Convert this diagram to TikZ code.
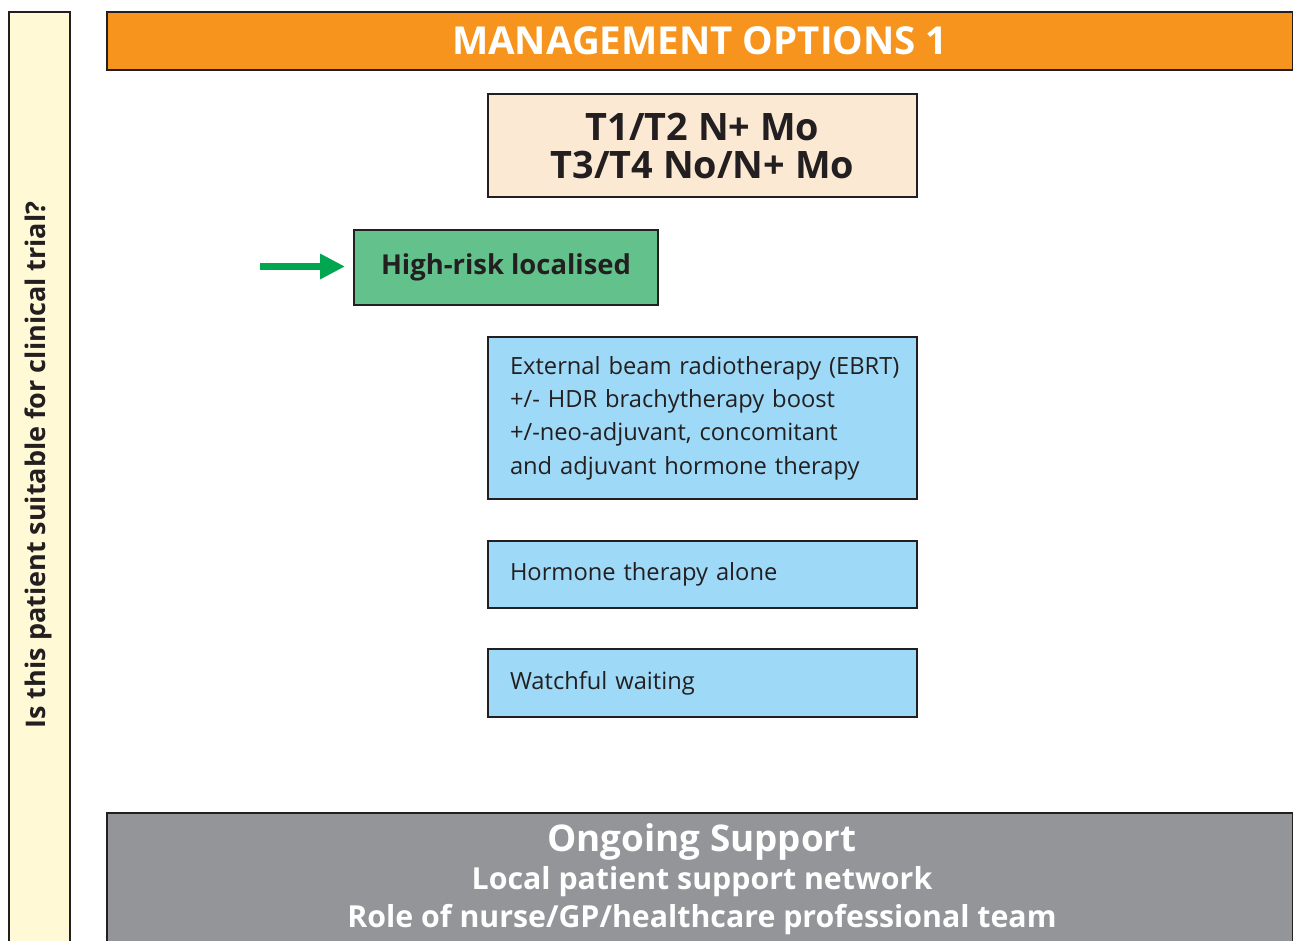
\documentclass[tikz,border=0pt]{standalone}
\usepackage{fontspec}
\setmainfont{Open Sans}
\usetikzlibrary{arrows.meta}
\definecolor{hdrorange}{HTML}{F7941D}
\definecolor{peach}{HTML}{FCE9D4}
\definecolor{gbox}{HTML}{63C18C}
\definecolor{garrow}{HTML}{00A650}
\definecolor{bbox}{HTML}{9EDAF7}
\definecolor{gray1}{HTML}{939598}
\definecolor{ylw}{HTML}{FFF9D6}
\definecolor{edge}{HTML}{231F20}
\hbadness=10000 \hfuzz=100pt
\tikzset{
  boxbase/.style={draw=edge, line width=2pt, rectangle, inner sep=0pt},
  optbox/.style={boxbase, fill=bbox, inner xsep=22pt, minimum width=429pt, text width=385pt, align=left,
     font=\fontsize{23.7}{33.3}\selectfont, text=edge},
}
\begin{document}
\begin{tikzpicture}[x=1pt,y=-1pt]
\clip (0,0) rectangle (1293,940);
\useasboundingbox (0,0) rectangle (1293,940);
\fill[white] (0,0) rectangle (1293,940);
% left vertical bar
\node[boxbase, fill=ylw, minimum width=61pt, minimum height=950pt, anchor=north west] (trial) at (8,11) {};
\node[rotate=90, font=\fontsize{27}{30}\bfseries, text=edge] (trialtxt) at (38.5,465) {Is this patient suitable for clinical trial?};
% header
\node[boxbase, fill=hdrorange, minimum width=1186pt, minimum height=58pt, anchor=north west,
  text=white, font=\fontsize{38.5}{40}\bfseries] (hdr) at (106,11) {MANAGEMENT OPTIONS 1};
% stage box
\node[boxbase, fill=peach, minimum width=429pt, minimum height=103pt, anchor=north west,
  align=center, text=edge, font=\fontsize{37.8}{38}\bfseries] (stage) at (487,93) {T1/T2 N+ Mo\\T3/T4 No/N+ Mo};
% high-risk box
\node[boxbase, fill=gbox, minimum width=304pt, minimum height=75pt, anchor=north west,
  text=edge, font=\fontsize{27.4}{30}\bfseries] (hr) at (353,229) {High-risk localised};
\coordinate (arrstart) at (260,266.5);
\draw[garrow, line width=7pt, -{Triangle[length=25pt,width=24pt]}, shorten >=8pt] (arrstart) -- (arrstart -| hr.west);
% option boxes
\node[optbox, minimum height=162pt, anchor=north west] (ebrt) at (487,336) {\mbox{External beam radiotherapy (EBRT)}\\+/- HDR brachytherapy boost\\+/-neo-adjuvant, concomitant\\and adjuvant hormone therapy};
\node[optbox, minimum height=67pt, anchor=north west] (horm) at (487,540) {Hormone therapy alone};
\node[optbox, minimum height=68pt, anchor=north west] (watch) at (487,648) {Watchful waiting};
% ongoing support
\node[boxbase, fill=gray1, minimum width=1186pt, minimum height=140pt, anchor=north west] (support) at (106,812) {};
\node[text=white, font=\fontsize{36.8}{38}\bfseries] (sup1) at (702,842) {Ongoing Support};
\node[text=white, font=\fontsize{30.3}{32}\bfseries] (sup2) at (702,882) {Local patient support network};
\node[text=white, font=\fontsize{30.3}{32}\bfseries] (sup3) at (702,920) {Role of nurse/GP/healthcare professional team};
\end{tikzpicture}
\end{document}
